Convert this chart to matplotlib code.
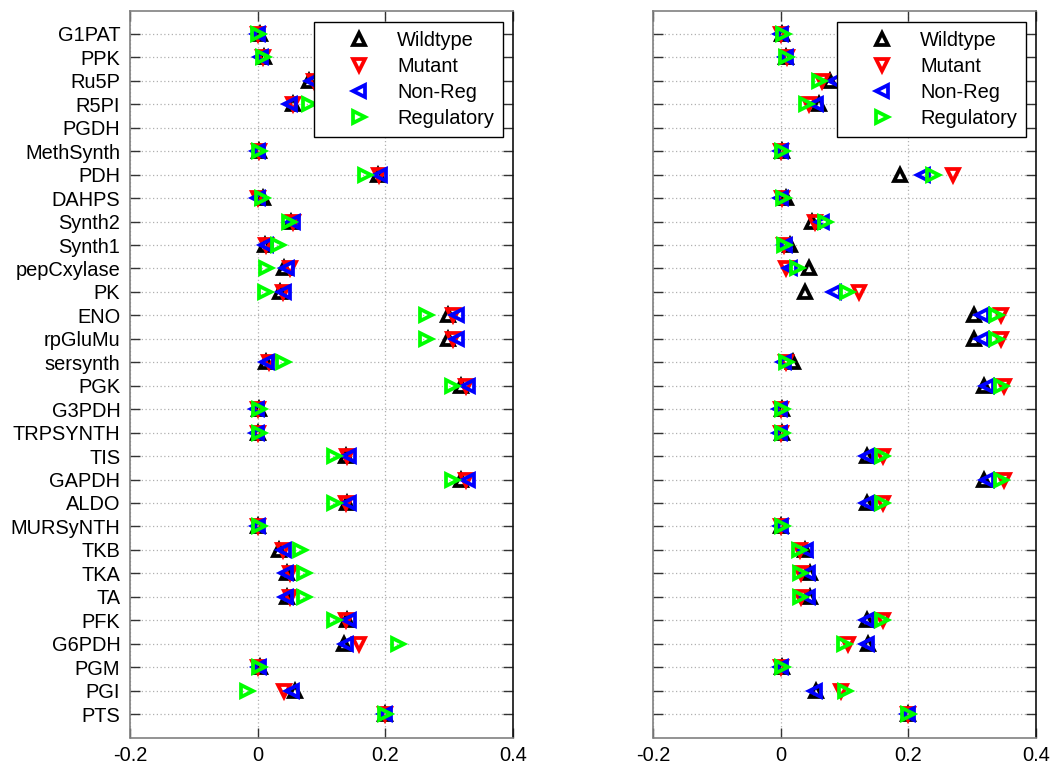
import matplotlib
matplotlib.use("Agg")
import matplotlib.pyplot as plt
import numpy as np

plt.rcParams['font.family'] = ['Liberation Sans', 'DejaVu Sans']

categories = ["G1PAT", "PPK", "Ru5P", "R5PI", "PGDH", "MethSynth", "PDH", "DAHPS",
              "Synth2", "Synth1", "pepCxylase", "PK", "ENO", "rpGluMu", "sersynth",
              "PGK", "G3PDH", "TRPSYNTH", "TIS", "GAPDH", "ALDO", "MURSyNTH", "TKB",
              "TKA", "TA", "PFK", "G6PDH", "PGM", "PGI", "PTS"]

series_names = ["Wildtype", "Mutant", "Non-Reg", "Regulatory"]

# left panel
left_wildtype = [0.003, 0.010, 0.080, 0.055, 0.150, 0.002, 0.188, 0.008, 0.052, 0.012,
                 0.042, 0.035, 0.298, 0.298, 0.013, 0.318, 0.002, 0.001, 0.138, 0.318,
                 0.140, 0.001, 0.034, 0.046, 0.046, 0.140, 0.136, 0.004, 0.058, 0.200]
left_mutant = [0.001, 0.008, 0.088, 0.056, 0.155, 0.002, 0.190, 0.000, 0.056, 0.013,
               0.051, 0.040, 0.306, 0.306, 0.018, 0.326, 0.001, 0.000, 0.140, 0.326,
               0.138, 0.001, 0.040, 0.050, 0.050, 0.138, 0.158, 0.001, 0.042, 0.200]
left_nonreg = [0.000, 0.006, 0.085, 0.050, 0.150, 0.000, 0.192, 0.000, 0.055, 0.013,
               0.046, 0.042, 0.312, 0.312, 0.015, 0.330, -0.001, -0.001, 0.143, 0.330,
               0.143, 0.000, 0.042, 0.044, 0.044, 0.143, 0.139, 0.002, 0.054, 0.200]
left_regulatory = [0.001, 0.009, 0.120, 0.080, 0.140, 0.002, 0.168, 0.007, 0.049, 0.032,
                   0.013, 0.012, 0.264, 0.264, 0.040, 0.304, 0.002, 0.002, 0.119, 0.304,
                   0.119, 0.002, 0.067, 0.073, 0.073, 0.119, 0.220, 0.002, -0.017, 0.200]

# right panel
right_wildtype = [0.002, 0.008, 0.077, 0.060, 0.105, 0.002, 0.187, 0.008, 0.049, 0.015,
                  0.044, 0.038, 0.303, 0.303, 0.019, 0.318, 0.002, 0.002, 0.135, 0.318,
                  0.135, 0.001, 0.038, 0.046, 0.046, 0.135, 0.137, 0.002, 0.056, 0.200]
right_mutant = [0.000, 0.010, 0.065, 0.045, 0.105, 0.001, 0.270, 0.002, 0.054, 0.006,
                0.008, 0.123, 0.345, 0.345, 0.008, 0.350, 0.001, 0.001, 0.161, 0.350,
                0.161, 0.001, 0.030, 0.032, 0.032, 0.161, 0.106, 0.001, 0.094, 0.200]
right_nonreg = [0.000, 0.008, 0.085, 0.055, 0.105, 0.000, 0.223, 0.000, 0.064, 0.007,
                0.015, 0.083, 0.316, 0.316, 0.005, 0.324, -0.001, -0.001, 0.136, 0.324,
                0.136, 0.000, 0.040, 0.043, 0.043, 0.136, 0.136, 0.000, 0.054, 0.200]
right_regulatory = [0.003, 0.009, 0.060, 0.040, 0.100, 0.002, 0.238, 0.003, 0.070, 0.006,
                    0.025, 0.104, 0.338, 0.338, 0.009, 0.345, 0.002, 0.002, 0.159, 0.345,
                    0.159, 0.002, 0.029, 0.030, 0.030, 0.159, 0.099, 0.002, 0.100, 0.200]

x_ticks = [-0.2, 0, 0.2, 0.4]
x_tick_labels = ["-0.2", "0", "0.2", "0.4"]

markers = ["^", "v", "<", ">"]
colors = ["#000000", "#ff0000", "#0000ff", "#00ff00"]

W, H = 1051, 766
fig = plt.figure(figsize=(W / 100, H / 100), dpi=100)
ax_l = fig.add_axes([130 / W, 28.5 / H, 383 / W, 727 / H])
ax_r = fig.add_axes([653 / W, 28.5 / H, 383 / W, 727 / H])

ypos = np.arange(1, len(categories) + 1)


def draw_panel(ax, data, show_labels):
    for vals, m, c, name in zip(data, markers, colors, series_names):
        ax.plot(vals, ypos, linestyle="none", marker=m, markersize=9.2,
                markerfacecolor="none", markeredgecolor=c, markeredgewidth=2.7,
                label=name, zorder=3)
    ax.set_xlim(-0.2, 0.4)
    ax.set_ylim(len(categories) + 1, 0)
    ax.set_xticks(x_ticks)
    ax.set_xticklabels(x_tick_labels, fontsize=14.4)
    ax.set_yticks(ypos)
    if show_labels:
        ax.set_yticklabels(categories, fontsize=14.4)
    else:
        ax.set_yticklabels([])
    ax.tick_params(axis="both", direction="in", length=7, width=1, color="#333333",
                   top=True, right=True)
    ax.tick_params(axis="x", pad=6)
    ax.tick_params(axis="y", pad=7)
    ax.grid(True, linestyle=(0, (1, 2)), color="#b0b0b0", linewidth=0.9, zorder=0)
    ax.set_axisbelow(True)
    for side in ["left", "bottom", "top"]:
        ax.spines[side].set_color("#808080")
        ax.spines[side].set_linewidth(1.2)
    ax.spines["right"].set_color("#111111")
    ax.spines["right"].set_linewidth(1.2)
    leg = ax.legend(loc="upper right", bbox_to_anchor=(1 - 10 / 383, 1 - 11 / 727),
                    borderaxespad=0, fontsize=14.4, frameon=True, fancybox=False,
                    edgecolor="#000000", framealpha=1, borderpad=0.45,
                    handlelength=3.55, handletextpad=0.15, labelspacing=0.36,
                    numpoints=1)
    leg.get_frame().set_linewidth(1.0)
    leg.set_zorder(10)


draw_panel(ax_l, [left_wildtype, left_mutant, left_nonreg, left_regulatory], True)
draw_panel(ax_r, [right_wildtype, right_mutant, right_nonreg, right_regulatory], False)

fig.savefig("out.png", dpi=100)
